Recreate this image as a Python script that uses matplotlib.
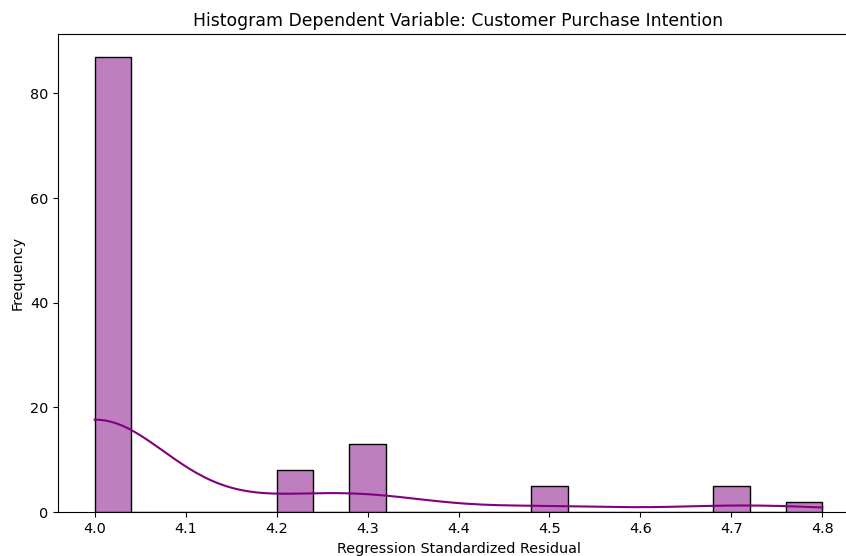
import numpy as np
import pandas as pd
import matplotlib
matplotlib.use("Agg")
import matplotlib.pyplot as plt
import seaborn as sns

values = [4.0, 4.2, 4.3, 4.5, 4.7, 4.8]
counts = [87, 8, 13, 5, 5, 2]

data = pd.Series(np.repeat(values, counts), name="residual")

plt.rcParams["font.size"] = 10.35
fig = plt.figure(figsize=(8.46, 5.56), dpi=100)
ax = fig.add_axes([58.3 / 846, 44 / 556, 800.4 / 846, 478 / 556])
sns.histplot(data, bins=20, kde=True, color="purple", edgecolor="black", ax=ax)
ax.set_title("Histogram Dependent Variable: Customer Purchase Intention", fontsize=12.4)
ax.set_xlabel("Regression Standardized Residual", labelpad=4.5)
ax.set_ylabel("Frequency")
ax.tick_params(labelsize=10.35)
fig.savefig("out.png", dpi=100)
